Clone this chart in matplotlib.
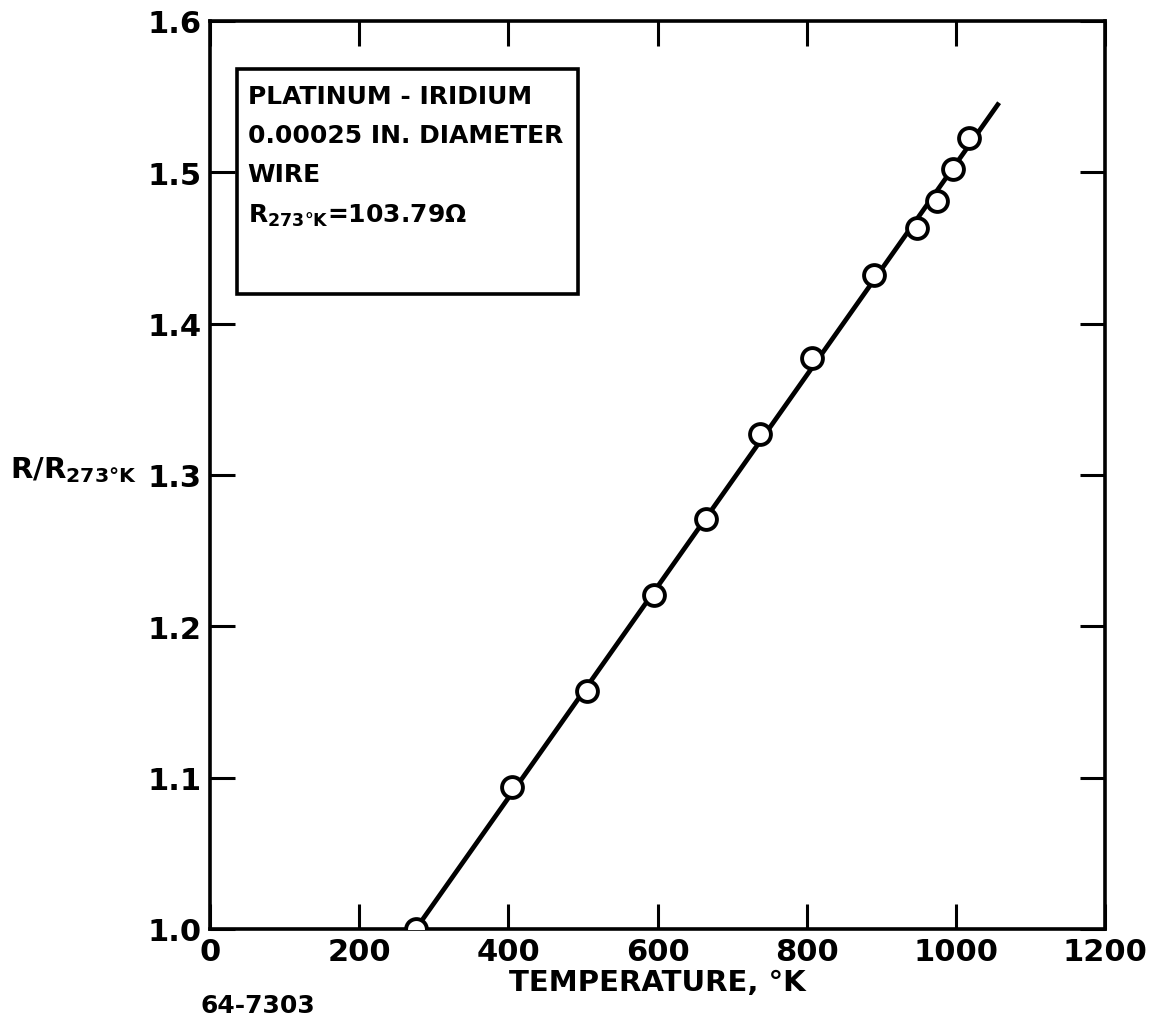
import numpy as np
import matplotlib
matplotlib.use('Agg')
from matplotlib import pyplot as plt
from matplotlib.patches import Rectangle

temperature = [276, 405, 505, 595, 665, 737, 807, 890, 948, 975, 996, 1017]
r_ratio = [1.000, 1.094, 1.157, 1.221, 1.271, 1.327, 1.377, 1.432, 1.463, 1.481, 1.502, 1.523]
# straight line drawn through them
line_t = [276, 1058]
line_r = [1.000, 1.546]

x_ticks = [0, 200, 400, 600, 800, 1000, 1200]
y_ticks = [1.0, 1.1, 1.2, 1.3, 1.4, 1.5, 1.6]
y_tick_labels = ['1.0', '1.1', '1.2', '1.3', '1.4', '1.5', '1.6']

plt.rcParams['font.family'] = ['DejaVu Sans']
plt.rcParams['font.weight'] = 'bold'

fig = plt.figure(figsize=(11.64, 10.2), dpi=100)
ax = fig.add_axes([210/1164, 1 - 930/1020, (1105-210)/1164, (930-22)/1020])

ax.plot(line_t, line_r, color='black', lw=3.4, solid_capstyle='butt', zorder=2)
ax.plot(temperature, r_ratio, 'o', ms=15, mfc='white', mec='black', mew=2.8, zorder=3)

ax.set_xlim(0, 1200)
ax.set_ylim(1.0, 1.6)
ax.set_xticks(x_ticks)
ax.set_yticks(y_ticks)
ax.set_yticklabels(y_tick_labels)
ax.tick_params(direction='in', length=18, width=2.2, top=True, right=True,
               labelsize=22, pad=6)
for lab in ax.get_xticklabels() + ax.get_yticklabels():
    lab.set_fontweight('bold')
for s in ax.spines.values():
    s.set_linewidth(2.6)

ax.set_xlabel('TEMPERATURE, °K', fontsize=21, fontweight='bold', labelpad=1)
fig.text(10/1164, 1 - 470/1020, r'R/R$_{\mathbf{273°K}}$', fontsize=21,
         fontweight='bold', ha='left', va='center')

# label box
ax.add_patch(Rectangle((0.030, 0.699), 0.381, 0.248, transform=ax.transAxes,
                       fc='white', ec='black', lw=2.6, zorder=4))
box_text = ('PLATINUM - IRIDIUM\n0.00025 IN. DIAMETER\nWIRE\n'
            r'R$_{\mathbf{273°K}}$=103.79$\mathbf{\Omega}$')
ax.text(0.042, 0.931, box_text, transform=ax.transAxes, fontsize=18,
        fontweight='bold', ha='left', va='top', linespacing=1.8, zorder=5)

fig.text(200/1164, 1 - 1006/1020, '64-7303', fontsize=18, fontweight='bold',
         ha='left', va='center')

fig.savefig('out.png', dpi=100)
